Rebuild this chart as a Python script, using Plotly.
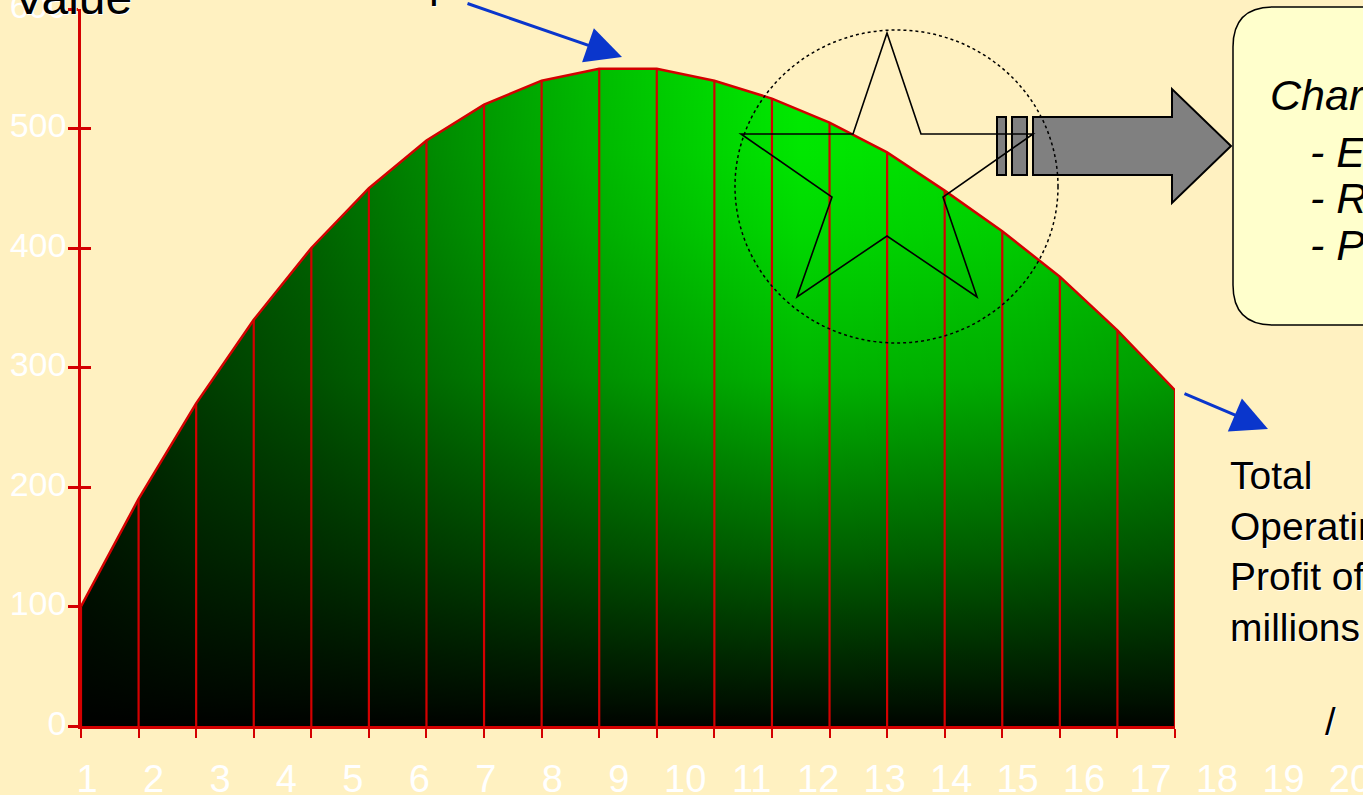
import plotly.graph_objects as go

W, H = 1363, 795
BG = "#FFF1C1"
RED = "#D40000"

# ---- data ----
x_vals = list(range(1, 21))
profit = [100, 190, 270, 340, 400, 450, 490, 520, 540, 550,
          550, 540, 525, 505, 480, 448, 414, 376, 331, 281]
x_labels = [str(i) for i in range(1, 21)]
y_ticks = [0, 100, 200, 300, 400, 500, 600]


def px(x):
    return x / W


def py(y):
    return 1 - y / H


# vertical stem segments built from the data
stem_x, stem_y = [], []
for xv, yv in zip(x_vals, profit):
    stem_x += [xv, xv, None]
    stem_y += [0, yv, None]

fig = go.Figure()

# base fill: vertical gradient
fig.add_trace(go.Scatter(
    x=x_vals, y=profit, mode="lines", line=dict(width=0, color=RED),
    fill="tozeroy",
    fillgradient=dict(type="vertical", start=0, stop=550,
                      colorscale=[[0, "#000400"], [0.04, "#001400"], [0.26, "#006000"],
                                  [0.53, "#00B400"], [0.75, "#00D800"], [0.87, "#00E600"],
                                  [1, "#00EC00"]]),
    hoverinfo="skip", showlegend=False))

# darkening overlay: horizontal gradient
fig.add_trace(go.Scatter(
    x=x_vals, y=profit, mode="lines", line=dict(width=0, color=RED),
    fill="tozeroy",
    fillgradient=dict(type="horizontal", start=1, stop=20,
                      colorscale=[[0, "rgba(0,0,0,0.82)"], [2/19, "rgba(0,0,0,0.66)"],
                                  [4/19, "rgba(0,0,0,0.55)"], [7/19, "rgba(0,0,0,0.34)"],
                                  [9/19, "rgba(0,0,0,0.2)"], [11/19, "rgba(0,0,0,0.08)"],
                                  [12.5/19, "rgba(0,0,0,0)"], [16/19, "rgba(0,0,0,0.05)"],
                                  [1, "rgba(0,0,0,0.15)"]]),
    hoverinfo="skip", showlegend=False))

# vertical red lines
fig.add_trace(go.Scatter(x=stem_x, y=stem_y, mode="lines",
                         line=dict(color=RED, width=2.2), hoverinfo="skip", showlegend=False))
# top outline
fig.add_trace(go.Scatter(x=x_vals, y=profit, mode="lines",
                         line=dict(color=RED, width=2.5), hoverinfo="skip", showlegend=False))

# carrier for the overlaid value axis (outside ticks + labels)
fig.add_trace(go.Scatter(x=x_vals, y=profit, yaxis="y3", mode="lines",
                         line=dict(width=0), opacity=0, hoverinfo="skip", showlegend=False))

# label axis trace (invisible markers, carries the category labels)
fig.add_trace(go.Scatter(x=x_vals, y=[0] * len(x_vals), xaxis="x2", yaxis="y2",
                         mode="markers", marker=dict(opacity=0), hoverinfo="skip",
                         showlegend=False))

# label axis range: labels from 87px to 1350px
step = (1350 - 87) / 19
r0 = 1 - 87 / step
r1 = 20 + (W - 1350) / step

ydom = [py(726), py(9)]
fig.update_layout(
    width=W, height=H, autosize=False,
    margin=dict(l=0, r=0, t=0, b=0, pad=0, autoexpand=False),
    paper_bgcolor=BG, plot_bgcolor="rgba(0,0,0,0)",
    showlegend=False,
    xaxis=dict(domain=[px(81), px(1175)], range=[1, 20], anchor="y",
               showgrid=False, zeroline=False, showline=True, linecolor=RED, linewidth=3,
               ticks="outside", tickcolor=RED, ticklen=9, tickwidth=2,
               tickvals=x_vals, showticklabels=False, fixedrange=True),
    # main value axis: inside ticks, drawn beneath the fill
    yaxis=dict(domain=ydom, range=[0, 600], anchor="x", layer="below traces",
               showgrid=False, zeroline=False, showline=False,
               ticks="inside", tickcolor=RED, ticklen=10, tickwidth=2.5,
               tickvals=y_ticks, showticklabels=False, fixedrange=True),
    # overlaid value axis: line, outside ticks and labels
    yaxis3=dict(overlaying="y", range=[0, 600], anchor="x", side="left",
                showgrid=False, zeroline=False, showline=True, linecolor=RED, linewidth=2.5,
                ticks="outside", tickcolor=RED, ticklen=10, tickwidth=2.5,
                tickvals=y_ticks, ticklabelstandoff=-5, ticklabelshift=-3,
                ticklabeloverflow="allow",
                tickfont=dict(family="Liberation Sans", size=34, color="white"),
                fixedrange=True),
    xaxis2=dict(domain=[0, 1], range=[r0, r1], anchor="free", position=py(753),
                showgrid=False, zeroline=False, showline=False, ticks="",
                tickvals=x_vals, ticktext=x_labels, ticklabelstandoff=0,
                ticklabeloverflow="allow",
                tickfont=dict(family="Liberation Sans Narrow, Arial Narrow, Liberation Sans",
                              size=38, color="white"),
                fixedrange=True),
    yaxis2=dict(domain=[0, 0.02], anchor="x2", visible=False, range=[1, 2], fixedrange=True),
)

shapes = []

# rounded box on right
bx0, by0, bx1, by1, rr = 1233, 7, 1500, 325, 40
box_path = (f"M {px(bx0+rr)},{py(by0)} L {px(bx1)},{py(by0)} L {px(bx1)},{py(by1)} "
            f"L {px(bx0+rr)},{py(by1)} Q {px(bx0)},{py(by1)} {px(bx0)},{py(by1-rr)} "
            f"L {px(bx0)},{py(by0+rr)} Q {px(bx0)},{py(by0)} {px(bx0+rr)},{py(by0)} Z")
shapes.append(dict(type="path", xref="paper", yref="paper", path=box_path,
                   fillcolor="#FFFFCC", line=dict(color="black", width=1.5)))

# grey block arrow with stripes
for (a, b) in [(997, 1006), (1012, 1027)]:
    shapes.append(dict(type="rect", xref="paper", yref="paper",
                       x0=px(a), x1=px(b), y0=py(117), y1=py(175),
                       fillcolor="#808080", line=dict(color="black", width=2)))
arrow_pts = [(1033, 117), (1172, 117), (1172, 89), (1231, 146), (1172, 203),
             (1172, 175), (1033, 175)]
arrow_path = "M " + " L ".join(f"{px(a)},{py(b)}" for a, b in arrow_pts) + " Z"
shapes.append(dict(type="path", xref="paper", yref="paper", path=arrow_path,
                   fillcolor="#808080", line=dict(color="black", width=2)))

# star outline
star_pts = [(887, 33), (921, 134), (1033, 134), (943, 197), (977, 297), (887, 236),
            (797, 297), (832, 197), (741, 134), (853, 134)]
star_path = "M " + " L ".join(f"{px(a)},{py(b)}" for a, b in star_pts) + " Z"
shapes.append(dict(type="path", xref="paper", yref="paper", path=star_path,
                   line=dict(color="black", width=1.6)))

# dotted circle
shapes.append(dict(type="circle", xref="paper", yref="paper",
                   x0=px(735), x1=px(1058), y0=py(343), y1=py(30),
                   line=dict(color="black", width=1.5, dash="dot")))

fig.update_layout(shapes=shapes)

shadow = "1px 1px 0px white"
ann = []
ann.append(dict(xref="paper", yref="paper", x=px(11), y=py(-3), xanchor="left",
                yanchor="middle", text="Value", showarrow=False,
                font=dict(family="Liberation Sans", size=48, color="black", shadow=shadow)))
ann.append(dict(xref="paper", yref="paper", x=px(427), y=py(-19), xanchor="left",
                yanchor="middle", text="peak", showarrow=False,
                font=dict(family="Liberation Sans", size=44, color="black", shadow=shadow)))
ann.append(dict(xref="paper", yref="paper", x=px(1228), y=py(452), xanchor="left",
                yanchor="top", align="left",
                text="Total<br>Operating<br>Profit of<br>millions",
                showarrow=False,
                font=dict(family="Liberation Sans", size=39, color="black", shadow=shadow)))
ann.append(dict(xref="paper", yref="paper", x=px(1330), y=py(722), xanchor="center",
                yanchor="middle", text="/", showarrow=False,
                font=dict(family="Liberation Sans", size=38, color="black", shadow=shadow)))
box_lines = [("Characteristics:", 1268, 110), ("- Expansion", 1308, 167),
             ("- Rapid growth", 1308, 213), ("- Peak", 1308, 260)]
for t, xx, base in box_lines:
    ann.append(dict(xref="paper", yref="paper", x=px(xx), y=py(base - 15), xanchor="left",
                    yanchor="middle", text=t, showarrow=False,
                    font=dict(family="Liberation Sans", size=43, color="black",
                              style="italic")))
# blue arrows
ann.append(dict(xref="paper", yref="paper", x=px(622), y=py(57), ax=-156, ay=-54,
                text="", showarrow=True, arrowhead=2, arrowsize=2.4, arrowwidth=3,
                arrowcolor="#0A36CC"))
ann.append(dict(xref="paper", yref="paper", x=px(1268), y=py(429), ax=-85, ay=-36,
                text="", showarrow=True, arrowhead=2, arrowsize=2.4, arrowwidth=3,
                arrowcolor="#0A36CC"))
fig.update_layout(annotations=ann)

fig.write_html("out.html", config={"displayModeBar": False},
               post_script="document.body.style.margin='0';document.body.style.overflow='hidden';")
